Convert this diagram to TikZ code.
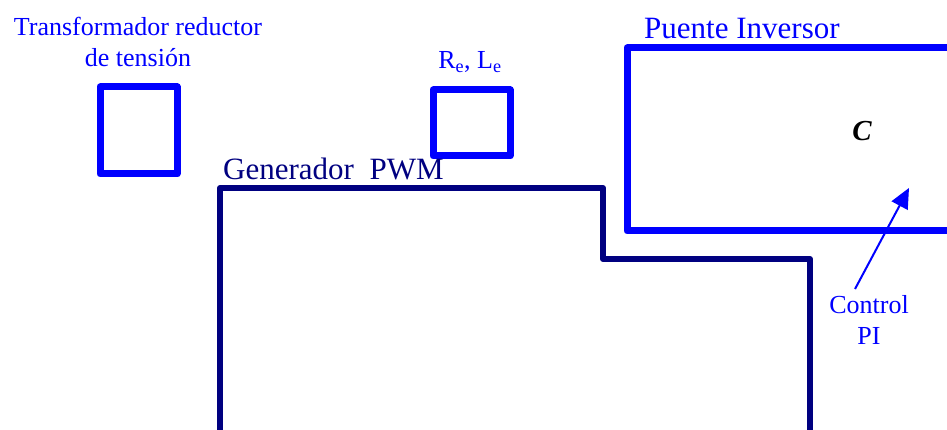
\documentclass[tikz,border=0pt]{standalone}
\usepackage{fontspec}
\setmainfont{Liberation Serif}
\usetikzlibrary{arrows.meta}
\definecolor{pblue}{RGB}{0,0,255}
\definecolor{pnavy}{RGB}{0,0,128}
\begin{document}
\begin{tikzpicture}[x=1pt,y=-1pt,
  bluebox/.style={draw=pblue,line width=7pt,line join=round},
  navyline/.style={draw=pnavy,line width=6pt,line join=round},
  lbl/.style={inner sep=0pt,font=\fontsize{26}{31}\selectfont,text=pblue,align=center},
  biglbl/.style={inner sep=0pt,font=\fontsize{31}{34}\selectfont,anchor=base west}]
\useasboundingbox (0,0) rectangle (947,430);
\begin{scope}
\clip (0,0) rectangle (947,430);
\draw[bluebox] (100,87) rectangle (177,174);
\draw[bluebox] (433,90) rectangle (510,156);
\draw[bluebox] (1000,48) -- (627,48) -- (627,231) -- (1000,231);
\draw[navyline] (220,440) -- (220,188) -- (603,188) -- (603,259) -- (810,259) -- (810,440);
\end{scope}
\node[lbl] (t1) at (138,42) {Transformador reductor\\de tensión};
\node[lbl] (rl) at (470,62) {R\textsubscript{e}, L\textsubscript{e}};
\node[biglbl,text=pnavy] (pwm) at (223,180) {Generador\ \ PWM};
\node[biglbl,text=pblue] (pi) at (644,39) {Puente Inversor};
\node[inner sep=0pt,font=\fontsize{29}{30}\selectfont\bfseries\itshape] (c) at (862,131) {C};
\node[lbl] (ctl) at (869,320) {Control\\PI};
\coordinate (tail) at (855,289);
\coordinate (tip) at (909,188);
\draw[pblue,line width=2pt,-{Triangle[length=20pt,width=18pt]}] (tail) -- (tip);
\end{tikzpicture}
\end{document}
